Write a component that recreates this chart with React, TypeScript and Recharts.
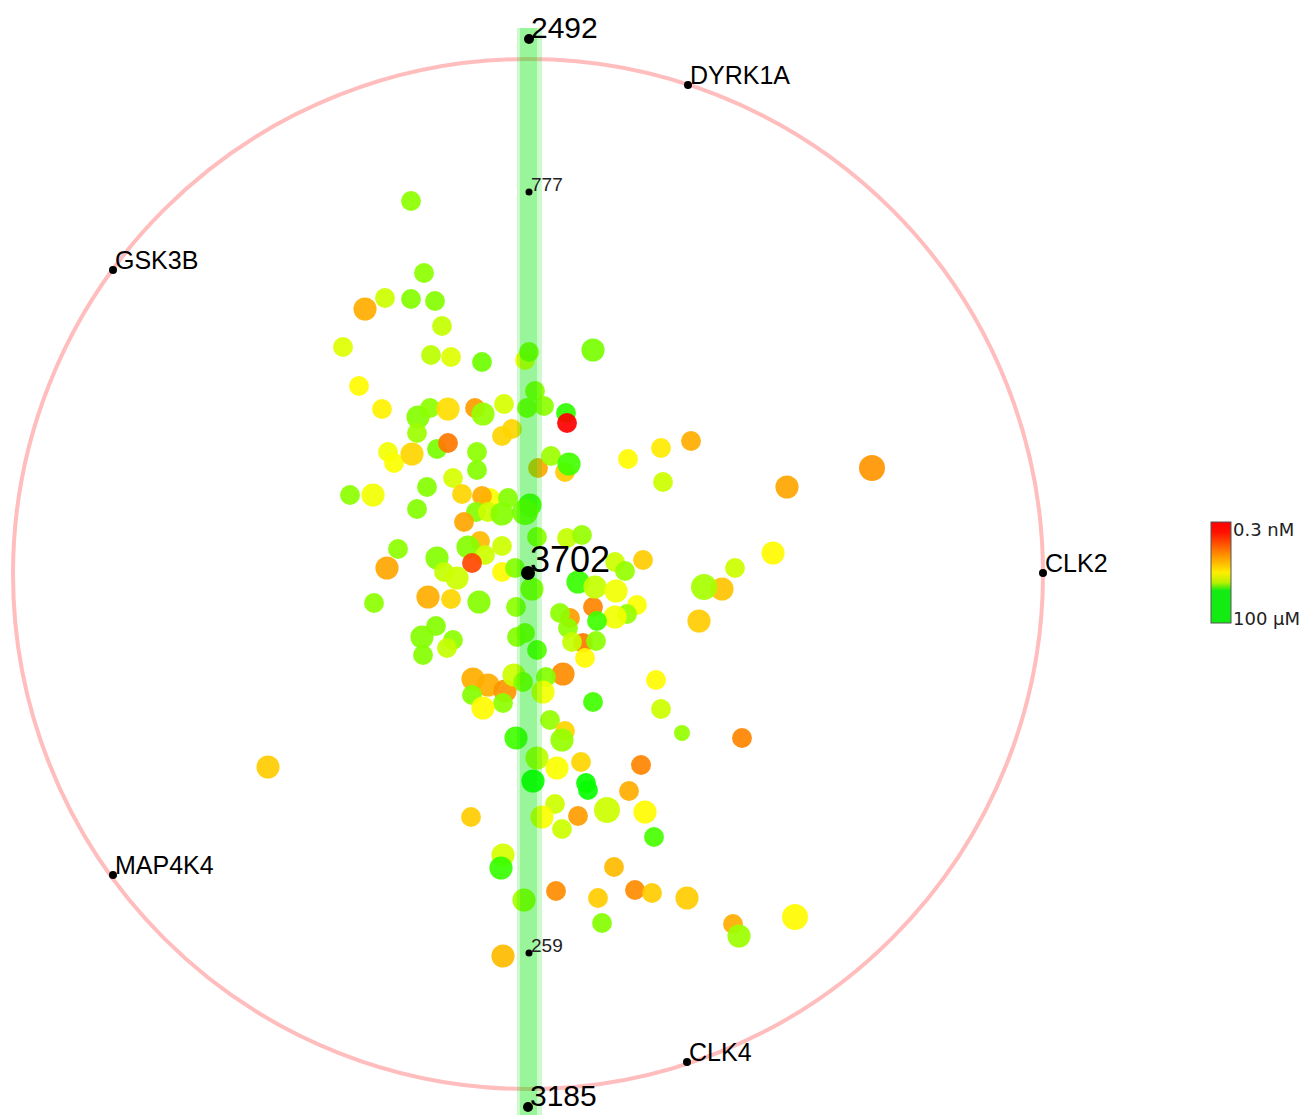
import React from 'react';
import {
  ScatterChart,
  Scatter,
  XAxis,
  YAxis,
  ZAxis,
  Cell,
  ReferenceArea,
  ReferenceDot,
} from 'recharts';

// Map space: the kinase circle is centred at (0, 0) with radius 515.
const RADIUS = 515;
const X_DOMAIN = [-528, 777];
const Y_DOMAIN = [-543, 574];

// Compounds: map position, potency (pIC50, 9.5 = 0.3 nM ... 4 = 100 µM), marker weight
const compoundX = [
  -117, -104, -143, -117, -93, -163, -86, -185, -97, -77, -46, -3, 1, 65, -169, 7, -146, -110, -98, -80,
  -53, -45, -24, -1, 16, 38, 39, -111, -16, -26, -91, -80, -51, -140, -134, -116, -51, -75, 10, 23,
  37, 41, 100, 133, 163, 135, 259, 344, -101, -178, -155, -66, -38, -46, -20, 2, -111, -52, -40, -26,
  -3, -64, 9, 39, 54, -48, -60, -26, -130, -91, -43, -56, -141, -84, -71, -26, -13, 115, 87, 97,
  245, 207, 65, 42, 55, 4, 50, 67, 88, 194, 176, -100, -77, -49, -154, 109, -12, 32, 99, 87,
  69, 171, -92, 40, -106, -75, -81, -11, -3, 9, 44, 68, -105, 57, 35, -55, -40, -23, -14, -5,
  18, 15, -56, -25, -45, 65, 128, 133, 22, 37, 34, -12, 154, 214, 9, 29, 53, 5, 58, 60,
  113, 101, 27, 14, 50, 79, 117, 34, 126, -57, -260, -25, -27, 86, 28, 107, 124, 70, 159, -4,
  74, 205, 211, 267, -25,
];
const compoundY = [
  373, 301, 276, 275, 273, 265, 248, 227, 219, 217, 212, 214, 222, 224, 188, 183, 165, 157, 166, 165,
  166, 160, 170, 166, 168, 161, 151, 141, 145, 138, 125, 131, 122, 122, 111, 120, 104, 96, 106, 118,
  102, 110, 115, 126, 133, 92, 87, 106, 87, 79, 79, 80, 76, 78, 76, 69, 65, 62, 62, 60,
  62, 52, 37, 36, 39, 33, 27, 28, 25, 16, 19, 11, 6, 2, -4, 2, 6, 14, 12, 3,
  21, 6, -33, -44, -69, -15, -8, -13, -17, -15, -13, -23, -25, -28, -29, -31, -33, -39, -40, -43,
  -47, -47, -52, -54, -63, -66, -74, -63, -59, -76, -68, -67, -81, -84, -100, -105, -111, -117, -101, -108,
  -103, -118, -121, -129, -134, -128, -106, -135, -146, -157, -166, -164, -159, -164, -184, -194, -188, -207, -209, -216,
  -191, -217, -230, -243, -242, -236, -238, -255, -263, -243, -193, -281, -294, -293, -317, -316, -319, -324, -324, -326,
  -349, -350, -362, -343, -382,
];
const compoundPotency = [
  5.5, 5.5, 6.2, 5.4, 5.4, 7.6, 6.1, 6.4, 6.0, 6.4, 5.2, 6.7, 5.5, 5.3, 6.8, 5.5, 6.9, 5.4, 5.5, 7.1,
  7.8, 5.6, 6.3, 5.4, 5.5, 4.5, 9.5, 5.7, 7.2, 7.2, 5.3, 8.2, 5.5, 6.6, 6.7, 7.2, 5.4, 6.3, 7.7, 5.7,
  7.3, 4.7, 6.8, 7.0, 7.6, 6.2, 7.7, 7.9, 5.4, 5.5, 6.6, 7.2, 6.7, 7.6, 5.4, 4.8, 5.4, 5.4, 6.2, 5.4,
  5.3, 7.7, 5.5, 6.1, 5.6, 7.5, 5.4, 6.2, 5.5, 5.4, 6.2, 8.7, 7.7, 6.1, 6.2, 6.8, 5.4, 7.3, 6.2, 5.6,
  6.8, 6.2, 8.1, 7.8, 8.2, 5.5, 4.6, 6.1, 6.6, 7.4, 5.8, 7.6, 7.2, 5.4, 5.5, 6.7, 5.5, 5.5, 5.6, 6.6,
  4.7, 7.3, 5.4, 5.5, 5.4, 5.5, 6.1, 5.4, 5.4, 4.9, 6.1, 5.5, 5.4, 6.8, 8.0, 7.6, 7.6, 7.9, 6.2, 5.5,
  5.4, 6.6, 5.4, 5.5, 6.8, 4.7, 6.8, 6.2, 5.6, 7.2, 5.6, 4.7, 5.6, 8.1, 6.0, 6.7, 7.2, 4.1, 4.1, 4.1,
  8.1, 7.6, 6.2, 6.7, 7.8, 6.2, 6.8, 6.2, 4.8, 7.3, 7.3, 6.3, 4.6, 7.5, 8.0, 8.0, 7.3, 7.3, 7.3, 5.8,
  5.4, 7.6, 5.7, 6.8, 7.5,
];
const compoundWeight = [
  1, 1, 1, 1, 1, 2, 1, 1, 1, 1, 1, 1, 1, 2, 1, 1, 1, 2, 1, 2,
  1, 2, 1, 1, 1, 1, 1, 1, 1, 1, 1, 1, 1, 1, 1, 2, 1, 1, 1, 1,
  1, 2, 1, 1, 1, 1, 2, 3, 1, 1, 2, 1, 1, 1, 1, 2, 1, 1, 1, 2,
  3, 1, 1, 1, 1, 1, 2, 1, 1, 2, 1, 1, 2, 1, 2, 1, 1, 1, 1, 1,
  2, 1, 1, 1, 1, 2, 2, 2, 2, 2, 3, 2, 1, 2, 1, 1, 1, 1, 1, 2,
  1, 2, 1, 1, 2, 1, 1, 1, 1, 1, 1, 1, 1, 1, 2, 2, 2, 2, 2, 1,
  1, 2, 1, 1, 2, 1, 1, 1, 1, 1, 2, 2, 0, 1, 2, 2, 1, 2, 1, 1,
  1, 1, 1, 2, 1, 3, 2, 1, 1, 1, 2, 2, 2, 1, 1, 1, 1, 1, 2, 2,
  1, 1, 2, 3, 2,
];

// Labelled anchors: query compound, reference compounds, kinases on the circle, nearest neighbours
const anchorNames = ['2492', 'DYRK1A', 'GSK3B', 'CLK2', 'MAP4K4', 'CLK4', '3185', '777', '259', '3702'];
const anchorX = [1, 160, -415, 515, -415, 159, 0, 1, 1, 0];
const anchorY = [535, 489, 304, 1, -301, -488, -533, 382, -379, 1];
const anchorRole = ['reference', 'target', 'target', 'target', 'target', 'target', 'reference', 'neighbor', 'neighbor', 'query'];

const colorbarLabels = ['0.3 nM', '100 µM'];

const compounds = compoundX.map((x, i) => ({
  x,
  y: compoundY[i],
  p: compoundPotency[i],
  w: compoundWeight[i],
}));

const anchors = anchorNames.map((name, i) => ({
  name,
  x: anchorX[i],
  y: anchorY[i],
  role: anchorRole[i],
}));

// potency -> hue, red for the most potent, green for the weakest
const potencyColor = (p: number) => {
  const t = Math.min(1, Math.max(0, (9.5 - p) / 5.5));
  return `hsl(${Math.round(120 * t)}, 100%, 50%)`;
};

const anchorStyle: Record<string, { r: number; font: number; color: string }> = {
  query: { r: 7, font: 36, color: '#000' },
  reference: { r: 5, font: 30, color: '#000' },
  target: { r: 4, font: 25, color: '#000' },
  neighbor: { r: 3.5, font: 19, color: '#222' },
};

const FONT = '"Liberation Sans", Arial, sans-serif';

const renderAnchor = (props: any) => {
  const { cx, cy } = props;
  const d = props.payload ?? props;
  const s = anchorStyle[d.role];
  return (
    <g>
      <circle cx={cx} cy={cy} r={s.r} fill="#000" />
      <text x={cx + 2} y={cy - 1} fontSize={s.font} fontFamily={FONT} fill={s.color}>
        {d.name}
      </text>
    </g>
  );
};

const ColorBar = () => (
  <svg
    width={1305}
    height={1117}
    style={{ position: 'absolute', left: 0, top: 0, pointerEvents: 'none' }}
  >
    <defs>
      <linearGradient id="potencyGradient" x1="0" y1="0" x2="0" y2="1">
        <stop offset="0%" stopColor="#ff0000" />
        <stop offset="10%" stopColor="#ff1000" />
        <stop offset="32%" stopColor="#ff8c00" />
        <stop offset="50%" stopColor="#ffee00" />
        <stop offset="60%" stopColor="#b8f000" />
        <stop offset="68%" stopColor="#12ec12" />
        <stop offset="100%" stopColor="#12ec12" />
      </linearGradient>
    </defs>
    <rect x={1211} y={522} width={20} height={101} fill="url(#potencyGradient)" stroke="#555" strokeWidth={1} />
    <text x={1233} y={536} fontSize={18} fontFamily='"DejaVu Sans", sans-serif' fill="#222">
      {colorbarLabels[0]}
    </text>
    <text x={1233} y={625} fontSize={18} fontFamily='"DejaVu Sans", sans-serif' fill="#222">
      {colorbarLabels[1]}
    </text>
  </svg>
);

export default function App() {
  return (
    <div style={{ position: 'relative', width: 1305, height: 1117, background: '#fff' }}>
      <style>{'body { margin: 0; }'}</style>
      <ScatterChart width={1305} height={1117} margin={{ top: 0, right: 0, bottom: 0, left: 0 }}>
        <XAxis type="number" dataKey="x" domain={X_DOMAIN} hide allowDataOverflow />
        <YAxis type="number" dataKey="y" domain={Y_DOMAIN} hide allowDataOverflow />
        <ZAxis type="number" dataKey="w" domain={[0, 3]} range={[201, 531]} />
        <ReferenceDot
          x={0}
          y={0}
          r={RADIUS}
          fill="none"
          stroke="#ffbdbd"
          strokeWidth={4}
          zIndex={50}
        />
        <Scatter data={compounds} isAnimationActive={false} zIndex={600}>
          {compounds.map((c, i) => (
            <Cell key={i} fill={potencyColor(c.p)} fillOpacity={0.92} />
          ))}
        </Scatter>
        {/* similarity band along the vertical axis */}
        <ReferenceArea x1={-11} x2={14} y1={-541} y2={546} fill="#00e600" fillOpacity={0.2} stroke="none" zIndex={650} />
        <ReferenceArea x1={-8} x2={9} y1={-541} y2={546} fill="#00e600" fillOpacity={0.25} stroke="none" zIndex={651} />
        <Scatter data={anchors} shape={renderAnchor} isAnimationActive={false} zIndex={700} />
      </ScatterChart>
      <ColorBar />
    </div>
  );
}
